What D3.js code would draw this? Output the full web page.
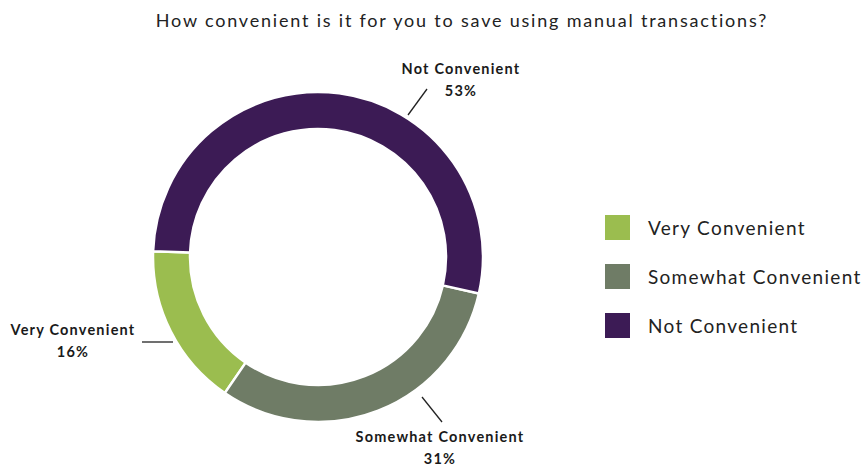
<!DOCTYPE html>
<html>
<head>
<meta charset="utf-8">
<script src="https://cdn.jsdelivr.net/npm/d3@7"></script>
<style>
  html, body { margin: 0; padding: 0; background: #ffffff; }
  svg { display: block; }
</style>
</head>
<body>
<div id="chart"></div>
<script>
// Survey answers, in legend order
const categories = ["Very Convenient", "Somewhat Convenient", "Not Convenient"];
const percents = [16, 31, 53];
const colors = ["#9bbd4f", "#6f7c66", "#3c1b55"];
const title = "How convenient is it for you to save using manual transactions?";

const W = 866, H = 468;
const cx = 318, cy = 257;
const rOuter = 165, rInner = 128;

const svg = d3.select("#chart").append("svg")
  .attr("width", W).attr("height", H);

svg.append("text")
  .attr("x", 462).attr("y", 27)
  .attr("text-anchor", "middle")
  .style("font-family", "Lato, sans-serif")
  .style("font-size", "18px")
  .style("letter-spacing", "1.8px")
  .style("fill", "#222")
  .text(title);

const data = categories.map((c, i) => ({ name: c, value: percents[i], color: colors[i] }));

// Slices run counter-clockwise from the left side: Very, Somewhat, then Not
const startDeg = 272;
const pie = d3.pie().sort(null).value(d => d.value)
  .startAngle(startDeg * Math.PI / 180)
  .endAngle((startDeg - 360) * Math.PI / 180);
const arcs = pie(data);

const arc = d3.arc().innerRadius(rInner).outerRadius(rOuter);

const g = svg.append("g").attr("transform", `translate(${cx},${cy})`);
g.selectAll("path").data(arcs).join("path")
  .attr("d", arc)
  .attr("fill", d => d.data.color)
  .attr("stroke", "#ffffff")
  .attr("stroke-width", 2.5);

// Callout labels with short leader lines
const callouts = [
  { name: "Very Convenient",     line: [[142, 342], [173, 342]], tx: 73,  ty: 335 },
  { name: "Somewhat Convenient", line: [[422, 397], [442, 422]], tx: 440, ty: 442 },
  { name: "Not Convenient",      line: [[427, 89],  [408, 115]], tx: 461, ty: 74 }
];
const byName = Object.fromEntries(data.map(d => [d.name, d]));

callouts.forEach(c => {
  svg.append("line")
    .attr("x1", c.line[0][0]).attr("y1", c.line[0][1])
    .attr("x2", c.line[1][0]).attr("y2", c.line[1][1])
    .attr("stroke", "#222").attr("stroke-width", 1.3);
  const t = svg.append("text")
    .attr("text-anchor", "middle")
    .style("font-family", "Lato, sans-serif")
    .style("font-weight", "700")
    .style("font-size", "14.5px")
    .style("letter-spacing", "1.2px")
    .style("fill", "#1a1a1a");
  t.append("tspan").attr("x", c.tx).attr("y", c.ty).text(c.name);
  t.append("tspan").attr("x", c.tx).attr("y", c.ty + 22).text(byName[c.name].value + "%");
});

// Legend
const legend = svg.append("g").attr("transform", "translate(605,215)");
const items = legend.selectAll("g").data(data).join("g")
  .attr("transform", (d, i) => `translate(0,${i * 49})`);
items.append("rect")
  .attr("width", 25).attr("height", 25)
  .attr("fill", d => d.color);
items.append("text")
  .attr("x", 43).attr("y", 20)
  .style("font-family", "Lato, sans-serif")
  .style("font-size", "19px")
  .style("letter-spacing", "1.3px")
  .style("fill", "#222")
  .text(d => d.name);
</script>
</body>
</html>
